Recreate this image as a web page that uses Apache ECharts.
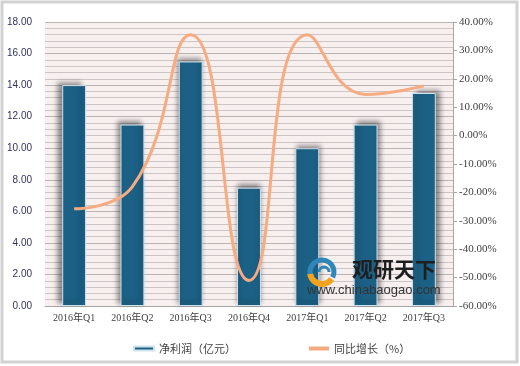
<!DOCTYPE html>
<html>
<head>
<meta charset="utf-8">
<script src="https://cdn.jsdelivr.net/npm/echarts@6/dist/echarts.min.js"></script>
<style>html,body{margin:0;padding:0;background:#fff;}#c{width:520px;height:366px;}</style>
</head>
<body>
<div id="c"></div>
<script>
var categories = ['2016年Q1','2016年Q2','2016年Q3','2016年Q4','2017年Q1','2017年Q2','2017年Q3'];
var profitValues = [14.0, 11.5, 15.5, 7.5, 10.0, 11.5, 13.5];
var growthValues = [-25.8, -18.0, 35.5, -51.0, 35.5, 14.5, 17.5];
var seriesNames = ['净利润（亿元）', '同比增长（%）'];
var watermarkTitle = '观研天下';
var watermarkUrl = 'www.chinabaogao.com';

var chart = echarts.init(document.getElementById('c'), null, {renderer: 'canvas'});
var serifCJK = '"Liberation Serif","Noto Sans CJK SC",serif';
var barData = profitValues.map(function (v, i) {
  return {
    value: v,
    itemStyle: {
      shadowColor: 'rgba(0,0,0,0.45)',
      shadowBlur: 5,
      shadowOffsetX: (i - 3) * 1.6,
      shadowOffsetY: -3
    }
  };
});
var option = {
  backgroundColor: '#ffffff',
  animation: false,
  grid: {left: 45, right: 67, top: 22, bottom: 60, show: true, backgroundColor: '#f8efef', borderWidth: 0},
  legend: {
    left: 128, top: 338, itemGap: 73, itemWidth: 20, itemHeight: 4,
    textStyle: {fontSize: 11, color: '#404040', fontFamily: '"Noto Sans CJK SC",sans-serif'},
    data: [{name: seriesNames[0], icon: 'rect'}, {name: seriesNames[1], icon: 'rect'}]
  },
  xAxis: {
    type: 'category', data: categories,
    axisLine: {lineStyle: {color: '#a6a6a6'}},
    axisTick: {show: false},
    axisLabel: {fontSize: 10, color: '#404040', margin: 7, fontFamily: serifCJK}
  },
  yAxis: [{
    type: 'value', min: 0, max: 18, interval: 2,
    axisLine: {show: false}, axisTick: {show: false},
    axisLabel: {fontSize: 10, color: '#33325e', margin: 13, fontFamily: '"Liberation Sans",Arial,sans-serif',
      formatter: function (v) { return v.toFixed(2); }},
    splitLine: {lineStyle: {color: '#b9b5b5', width: 1}},
    minorTick: {show: false, splitNumber: 5},
    minorSplitLine: {show: true, lineStyle: {color: '#cbc5c5', width: 1}}
  }, {
    type: 'value', min: -60, max: 40, interval: 10, position: 'right',
    axisLine: {show: true, lineStyle: {color: '#a6a6a6'}},
    axisTick: {show: true, inside: false, length: 4, lineStyle: {color: '#a6a6a6'}},
    axisLabel: {fontSize: 11, color: '#404040', margin: 6, fontFamily: '"Liberation Serif",serif',
      formatter: function (v) { return v.toFixed(2) + '%'; }},
    splitLine: {show: false}
  }],
  series: [{
    name: seriesNames[0], type: 'bar', data: barData, barWidth: '41%',
    itemStyle: {color: '#1c6185', borderColor: '#cfe3ee', borderWidth: 1},
    z: 2
  }, {
    name: seriesNames[1], type: 'line', yAxisIndex: 1, data: growthValues,
    smooth: 0.5, symbol: 'none',
    lineStyle: {color: '#f7ab80', width: 3},
    itemStyle: {color: '#f7ab80'},
    z: 3
  }],
  graphic: [
    {type: 'rect', shape: {x: 2, y: 2, width: 515, height: 360}, style: {fill: 'none', stroke: '#d2d2d2', lineWidth: 3}, z: 100},
    {type: 'arc', shape: {cx: 322, cy: 272, r: 12, startAngle: Math.PI * 0.95, endAngle: Math.PI * 2.15}, style: {fill: 'none', stroke: '#2f86b8', lineWidth: 5}, z: 50},
    {type: 'arc', shape: {cx: 322, cy: 272, r: 12, startAngle: Math.PI * 0.2, endAngle: Math.PI * 0.95}, style: {fill: 'none', stroke: '#f2a31b', lineWidth: 6}, z: 50},
    {type: 'arc', shape: {cx: 324, cy: 272, r: 5, startAngle: Math.PI * 1.0, endAngle: Math.PI * 2.0}, style: {fill: 'none', stroke: '#2f86b8', lineWidth: 3}, z: 50},
    {type: 'text', left: 352, top: 259, style: {text: watermarkTitle, fontSize: 21, fontWeight: 'bold', fill: '#1e1e1e', fontFamily: '"Noto Sans CJK SC",sans-serif'}, z: 50},
    {type: 'text', left: 307, top: 284, style: {text: watermarkUrl, fontSize: 13, fill: '#333333', fontFamily: '"Liberation Sans",Arial,sans-serif'}, z: 50}
  ]
};
chart.setOption(option);
</script>
</body>
</html>
